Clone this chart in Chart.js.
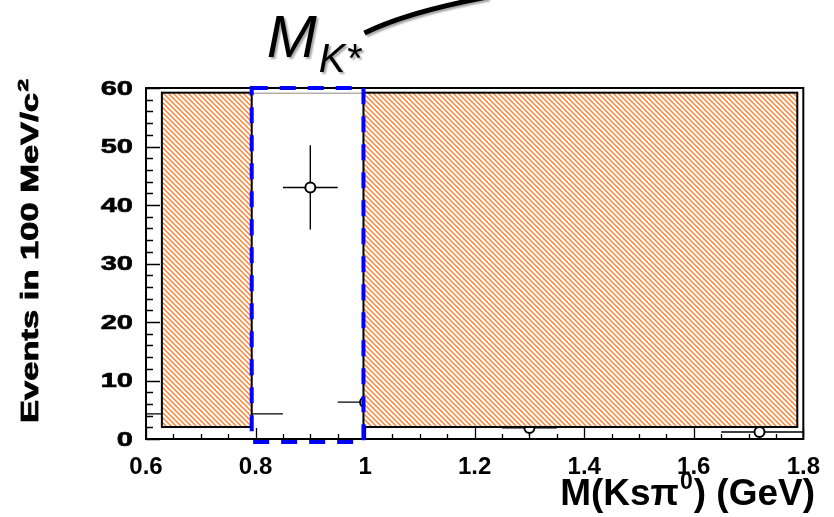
<!DOCTYPE html>
<html>
<head>
<meta charset="utf-8">
<script src="https://cdn.jsdelivr.net/npm/chart.js@4/dist/chart.umd.min.js"></script>
<style>
  html, body { margin: 0; padding: 0; background: #fff; }
  #wrap { position: relative; width: 834px; height: 517px; }
</style>
</head>
<body>
<div id="wrap"><canvas id="c" width="834" height="517"></canvas></div>
<script>
// Ks pi0 invariant-mass spectrum with the K* signal window and sideband regions

// measured points
const massBins = [0.72, 0.90, 1.00, 1.30, 1.72];   // bin centres (GeV)
const binLow   = [0.60, 0.85, 0.95, 1.25, 1.65];   // bin lower edges
const binHigh  = [0.85, 0.95, 1.05, 1.35, 1.80];   // bin upper edges
const events   = [4.3, 43.0, 6.3, 1.9, 1.2];       // events per 100 MeV/c^2
const eventErr = [2.1, 7.2, 2.5, 1.4, 1.1];        // statistical errors

// hatched sideband regions and the K* window
const sidebandX   = [[0.629, 0.793], [0.997, 1.789]];
const sidebandY   = [2.05, 59.2];
const kStarWindow = [0.793, 0.997];
const windowY     = [-0.5, 60];

// axis ticks
const xTickValues = [0.6, 0.8, 1.0, 1.2, 1.4, 1.6, 1.8];
const xTickLabels = ['0.6', '0.8', '1', '1.2', '1.4', '1.6', '1.8'];
const yTickValues = [0, 10, 20, 30, 40, 50, 60];
const yTickLabels = ['0', '10', '20', '30', '40', '50', '60'];
const xMinorStep = 0.05;
const yMinorStep = 2;

const FONT = '"Liberation Sans", Arial, Helvetica, sans-serif';

function makeHatch(ctx) {
  const t = document.createElement('canvas');
  t.width = 10; t.height = 10;
  const g = t.getContext('2d');
  g.fillStyle = '#ffffff';
  g.fillRect(0, 0, 10, 10);
  g.strokeStyle = '#ff8030';
  g.lineWidth = 1.4;
  for (const k of [-10, -5, 0, 5, 10]) {
    g.beginPath();
    g.moveTo(k - 1, -1);
    g.lineTo(k + 11, 11);
    g.stroke();
  }
  return ctx.createPattern(t, 'repeat');
}

// fill and lightly outline text so it reads as heavy as the axis labels
function heavyText(ctx, str, x, y) {
  ctx.fillText(str, x, y);
  ctx.strokeText(str, x, y);
}

const errorBars = {
  id: 'errorBars',
  beforeDatasetsDraw(chart) {
    const { ctx, chartArea: a, scales: { x, y } } = chart;
    ctx.save();
    ctx.beginPath();
    ctx.rect(a.left, a.top, a.right - a.left, a.bottom - a.top);
    ctx.clip();
    ctx.strokeStyle = '#000';
    ctx.lineWidth = 1.4;
    massBins.forEach((m, i) => {
      const px = x.getPixelForValue(m);
      const py = y.getPixelForValue(events[i]);
      ctx.beginPath();
      ctx.moveTo(x.getPixelForValue(binLow[i]), py);
      ctx.lineTo(x.getPixelForValue(binHigh[i]), py);
      ctx.moveTo(px, y.getPixelForValue(events[i] - eventErr[i]));
      ctx.lineTo(px, y.getPixelForValue(events[i] + eventErr[i]));
      ctx.stroke();
    });
    ctx.restore();
  }
};

const overlay = {
  id: 'overlay',
  afterDatasetsDraw(chart) {
    const { ctx, chartArea: a, scales: { x, y } } = chart;
    ctx.save();

    // hatched sidebands
    const hatch = makeHatch(ctx);
    const yt = y.getPixelForValue(sidebandY[1]);
    const yb = y.getPixelForValue(sidebandY[0]);
    sidebandX.forEach(([lo, hi]) => {
      const xl = x.getPixelForValue(lo), xr = x.getPixelForValue(hi);
      ctx.fillStyle = hatch;
      ctx.fillRect(xl, yt, xr - xl, yb - yt);
      ctx.strokeStyle = '#000';
      ctx.lineWidth = 2;
      ctx.strokeRect(xl, yt, xr - xl, yb - yt);
    });
    // thin top edge across the window
    ctx.strokeStyle = '#8a8a8a';
    ctx.lineWidth = 1;
    ctx.beginPath();
    ctx.moveTo(x.getPixelForValue(kStarWindow[0]), yt + 0.5);
    ctx.lineTo(x.getPixelForValue(kStarWindow[1]), yt + 0.5);
    ctx.stroke();

    // frame
    ctx.strokeStyle = '#000';
    ctx.lineWidth = 2;
    ctx.strokeRect(a.left, a.top, a.right - a.left, a.bottom - a.top);

    // ticks (inside the frame)
    ctx.lineWidth = 1.3;
    ctx.beginPath();
    for (let v = y.min; v <= y.max + 1e-9; v += yMinorStep) {
      const py = Math.round(y.getPixelForValue(v)) + 0.5;
      const major = Math.abs(v / 10 - Math.round(v / 10)) < 1e-6;
      ctx.moveTo(a.left, py);
      ctx.lineTo(a.left + (major ? 14 : 7), py);
    }
    for (let v = x.min; v <= x.max + 1e-9; v += xMinorStep) {
      const px = Math.round(x.getPixelForValue(v)) + 0.5;
      const major = Math.abs(v / 0.2 - Math.round(v / 0.2)) < 1e-6;
      ctx.moveTo(px, a.bottom);
      ctx.lineTo(px, a.bottom - (major ? 11 : 5));
    }
    ctx.stroke();

    // K* window
    const wl = x.getPixelForValue(kStarWindow[0]);
    const wr = x.getPixelForValue(kStarWindow[1]);
    const wt = y.getPixelForValue(windowY[1]);
    const wb = y.getPixelForValue(windowY[0]);
    ctx.strokeStyle = '#0000ff';
    ctx.lineWidth = 4;
    ctx.setLineDash([16, 12]);
    ctx.beginPath();
    ctx.moveTo(wl, wt);
    ctx.lineTo(wr, wt);
    ctx.lineTo(wr, wb);
    ctx.lineTo(wl, wb);
    ctx.closePath();
    ctx.stroke();
    ctx.setLineDash([]);

    // y tick labels
    ctx.fillStyle = '#000';
    ctx.strokeStyle = '#000';
    ctx.lineWidth = 0.6;
    ctx.font = 'bold 20px ' + FONT;
    ctx.textAlign = 'right';
    ctx.textBaseline = 'middle';
    yTickValues.forEach((v, i) => {
      ctx.save();
      ctx.translate(a.left - 13, y.getPixelForValue(v) + 1);
      ctx.scale(1.45, 1);
      heavyText(ctx, yTickLabels[i], 0, 0);
      ctx.restore();
    });

    // y title
    ctx.save();
    ctx.translate(38, 251);
    ctx.rotate(-Math.PI / 2);
    ctx.scale(1.5, 1);
    ctx.textAlign = 'left';
    ctx.textBaseline = 'alphabetic';
    ctx.lineWidth = 0.8;
    const yMain = 'Events in 100 MeV/c';
    ctx.font = 'bold 23px ' + FONT;
    const w1 = ctx.measureText(yMain).width;
    ctx.font = 'bold 15px ' + FONT;
    const w2 = ctx.measureText('2').width;
    const s0 = -(w1 + w2 + 1) / 2;
    ctx.font = 'bold 23px ' + FONT;
    heavyText(ctx, yMain, s0, 0);
    ctx.font = 'bold 15px ' + FONT;
    heavyText(ctx, '2', s0 + w1 + 1, -10);
    ctx.restore();

    // x title
    ctx.save();
    ctx.textAlign = 'left';
    ctx.textBaseline = 'alphabetic';
    const partA = 'M(Ks\u03c0', partB = '0', partC = ') (GeV)';
    ctx.font = 'bold 37px ' + FONT;
    const wa = ctx.measureText(partA).width, wc = ctx.measureText(partC).width;
    ctx.font = 'bold 23px ' + FONT;
    const wb2 = ctx.measureText(partB).width;
    let tx = 815 - (wa + wb2 + wc + 2);
    const base = 505;
    ctx.font = 'bold 37px ' + FONT;
    ctx.fillText(partA, tx, base);
    ctx.font = 'bold 23px ' + FONT;
    ctx.fillText(partB, tx + wa + 1, base - 16);
    ctx.font = 'bold 37px ' + FONT;
    ctx.fillText(partC, tx + wa + wb2 + 2, base);
    ctx.restore();

    // M_K* annotation with its arc
    ctx.save();
    ctx.shadowColor = 'rgba(0,0,0,0.35)';
    ctx.shadowOffsetX = 2;
    ctx.shadowOffsetY = 2;
    ctx.shadowBlur = 2;
    ctx.fillStyle = '#000';
    ctx.textAlign = 'left';
    ctx.textBaseline = 'alphabetic';
    ctx.font = 'italic 60px ' + FONT;
    const mx = wl + 15;
    ctx.fillText('M', mx, 57);
    const mw = ctx.measureText('M').width;
    ctx.font = 'italic 40px ' + FONT;
    ctx.fillText('K*', mx + mw + 2, 72);
    ctx.strokeStyle = '#000';
    ctx.lineWidth = 5;
    ctx.beginPath();
    ctx.moveTo(wr + 1, 33);
    ctx.quadraticCurveTo(wr + 44, 12, wr + 124, -3);
    ctx.stroke();
    ctx.restore();

    ctx.restore();
  }
};

const ctx = document.getElementById('c').getContext('2d');
new Chart(ctx, {
  type: 'scatter',
  data: {
    datasets: [{
      data: massBins.map((m, i) => ({ x: m, y: events[i] })),
      pointRadius: 5,
      pointHoverRadius: 5,
      pointBackgroundColor: '#ffffff',
      pointBorderColor: '#000000',
      pointBorderWidth: 2
    }]
  },
  options: {
    responsive: false,
    animation: false,
    events: [],
    layout: { padding: { top: 88, right: 23, left: 0, bottom: 0 } },
    plugins: { legend: { display: false }, tooltip: { enabled: false } },
    scales: {
      x: {
        type: 'linear',
        min: 0.6,
        max: 1.8,
        grid: { display: false, drawTicks: false },
        border: { display: false },
        afterBuildTicks: s => { s.ticks = xTickValues.map(v => ({ value: v })); },
        afterFit: s => { s.height = 78; },
        ticks: {
          autoSkip: false,
          maxRotation: 0,
          padding: 14,
          color: '#000',
          font: { family: FONT, weight: 'bold', size: 24 },
          callback: (v, i) => xTickLabels[i]
        }
      },
      y: {
        min: 0,
        max: 60,
        grid: { display: false, drawTicks: false },
        border: { display: false },
        ticks: { display: false },
        afterFit: s => { s.width = 146; }
      }
    }
  },
  plugins: [errorBars, overlay]
});
</script>
</body>
</html>
